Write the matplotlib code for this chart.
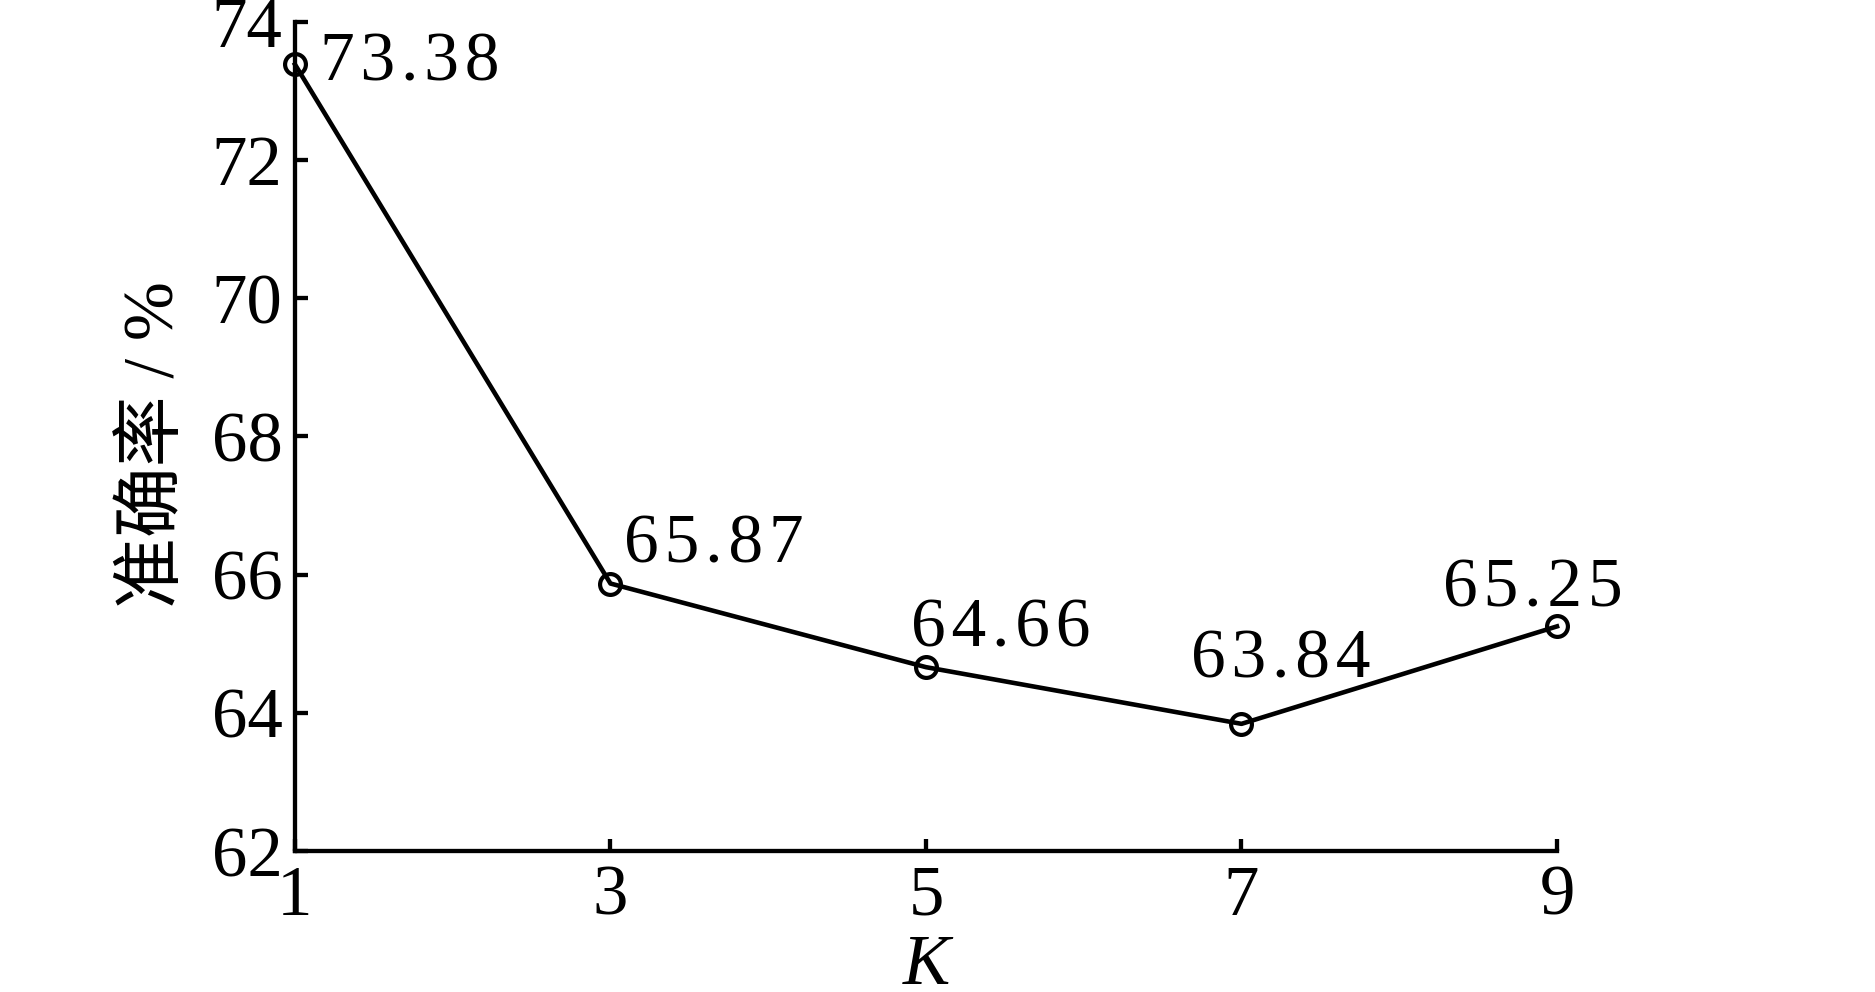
import matplotlib
matplotlib.use('Agg')
import matplotlib.pyplot as plt

k_values = [1, 3, 5, 7, 9]
accuracy = [73.38, 65.87, 64.66, 63.84, 65.25]
y_ticks = [62, 64, 66, 68, 70, 72, 74]

# label offsets in pixels (dx, dy) relative to each point
label_offsets = [(25, -16), (14, 21), (-15, 21), (-50, 46), (-114, 20)]

serif = ['Liberation Serif', 'Noto Sans CJK SC']
plt.rcParams['font.family'] = serif

fig = plt.figure(figsize=(18.75, 9.92), dpi=100)
ax = fig.add_axes([0.1573, 0.1421, 0.6731, 0.8362])

ax.plot(k_values, accuracy, color='black', linewidth=3.3,
        marker='o', markersize=15, markerfacecolor='none',
        markeredgecolor='black', markeredgewidth=3, clip_on=False, zorder=3)

hair = '\u200a'
for k, a, (dx, dy) in zip(k_values, accuracy, label_offsets):
    txt = hair.join(f'{a:.2f}')
    ax.annotate(txt, xy=(k, a), xytext=(dx, dy), textcoords='offset pixels',
                ha='left', va='baseline', fontsize=50)

ax.set_xlim(1, 9)
ax.set_ylim(62, 74)
ax.set_xticks(k_values)
ax.set_yticks(y_ticks)

for side in ['top', 'right']:
    ax.spines[side].set_visible(False)
for side in ['left', 'bottom']:
    ax.spines[side].set_linewidth(3.1)

ax.tick_params(direction='in', length=9, width=3.1, labelsize=51)
ax.tick_params(axis='x', pad=10)
ax.tick_params(axis='y', pad=9)

ax.set_ylabel('准确率 / %', fontsize=51)
ax.yaxis.set_label_coords(-0.085, 0.49)
ax.set_xlabel('K', fontsize=51, style='italic')
ax.xaxis.set_label_coords(0.5, -0.1)

fig.savefig('out.png', dpi=100)
